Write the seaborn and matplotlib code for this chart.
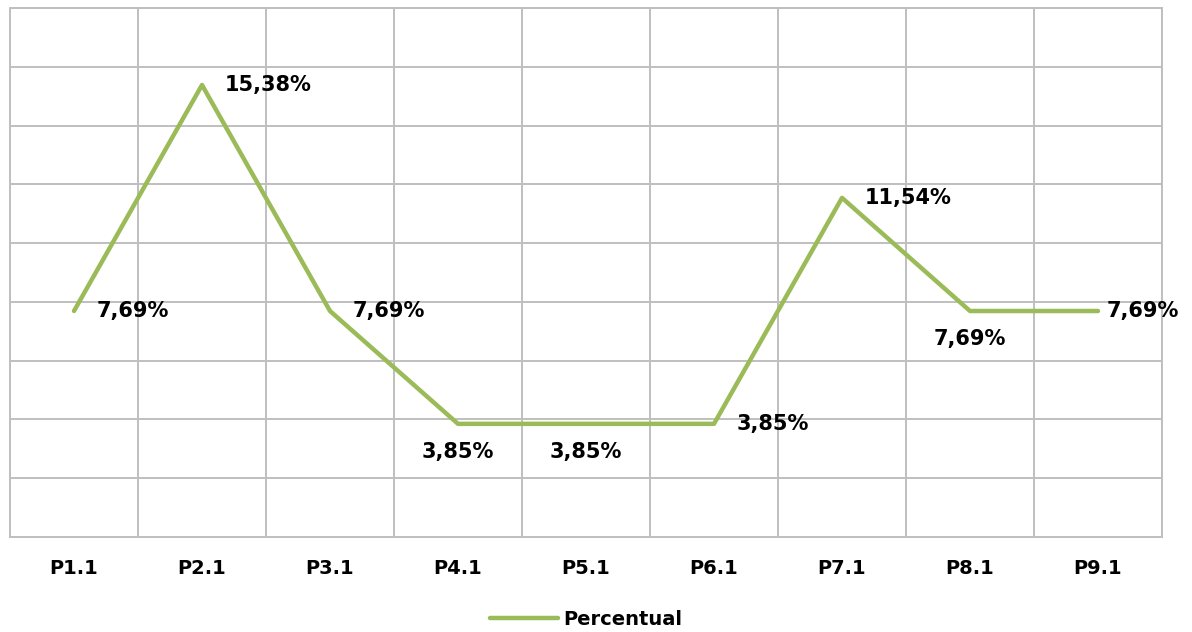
import matplotlib
matplotlib.use("Agg")
import matplotlib.pyplot as plt
import seaborn as sns
import pandas as pd
import numpy as np

# datos
categorias = ["P1.1", "P2.1", "P3.1", "P4.1", "P5.1", "P6.1", "P7.1", "P8.1", "P9.1"]
valores = [7.69, 15.38, 7.69, 3.85, 3.85, 3.85, 11.54, 7.69, 7.69]
etiquetas = ["7,69%", "15,38%", "7,69%", "3,85%", "3,85%", "3,85%", "11,54%", "7,69%", "7,69%"]
# posicion de la etiqueta: derecha o abajo
posicion = ["right", "right", "right", "below", "below", "right", "right", "below", "right"]

df = pd.DataFrame({"categoria": categorias, "valor": valores})
df["x"] = np.arange(len(categorias))

sns.set_style("white")
plt.rcParams["font.family"] = ["DejaVu Sans"]
plt.rcParams["text.color"] = "black"

verde = "#9BBB59"
gris = "#BFBFBF"

fig = plt.figure(figsize=(11.92, 6.32), dpi=100)
ax = fig.add_axes([10 / 1192, 1 - 537 / 632, 1152 / 1192, 529 / 632])

sns.lineplot(data=df, x="x", y="valor", color=verde, linewidth=3.2, ax=ax,
             label="Percentual", solid_capstyle="round")

ax.set_xlim(-0.5, len(categorias) - 0.5)
ax.set_ylim(0, 18)
ax.set_yticks(np.arange(0, 19, 2))
ax.set_yticklabels([])
ax.set_xticks(np.arange(len(categorias) + 1) - 0.5, minor=False)
ax.set_xticklabels([])
ax.set_xticks(df["x"], minor=True)
ax.set_xticklabels(categorias, minor=True, fontsize=14, fontweight="bold", color="black")
ax.tick_params(axis="both", which="both", length=0)
ax.tick_params(axis="x", which="minor", pad=16)
ax.grid(True, which="major", color=gris, linewidth=1.4)
ax.set_axisbelow(True)
for s in ax.spines.values():
    s.set_color(gris)
    s.set_linewidth(1.4)
ax.set_xlabel("")
ax.set_ylabel("")

ultimo = len(categorias) - 1
for xi, yi, t, p in zip(df["x"], valores, etiquetas, posicion):
    if p == "right":
        dx = 6 if xi == ultimo else 16
        ax.annotate(t, (xi, yi), xytext=(dx, 0), textcoords="offset points",
                    ha="left", va="center", fontsize=15, fontweight="bold")
    else:
        ax.annotate(t, (xi, yi), xytext=(0, -20), textcoords="offset points",
                    ha="center", va="center", fontsize=15, fontweight="bold")

leg = ax.legend(loc="upper center", bbox_to_anchor=(0.5, -0.105), frameon=False,
                prop={"size": 14, "weight": "bold"}, handlelength=3.5, handletextpad=0.3)

fig.savefig("out.png", dpi=100)
